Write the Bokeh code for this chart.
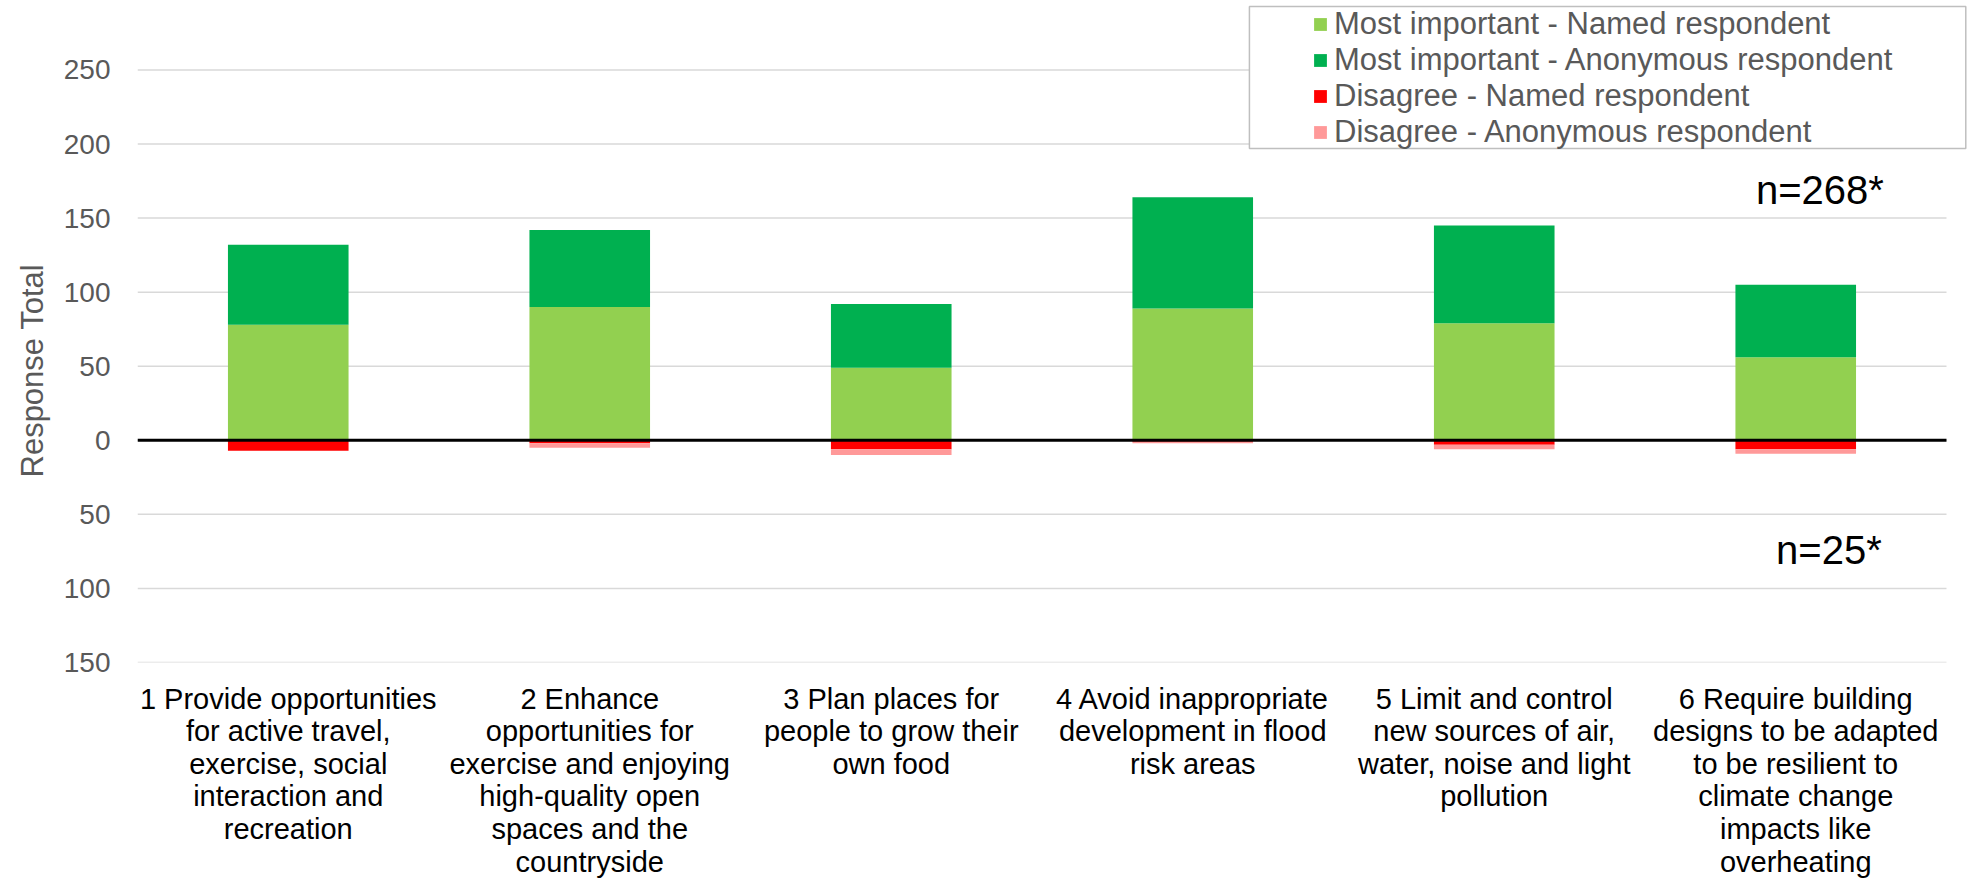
from bokeh.plotting import figure
from bokeh.models import (ColumnDataSource, Range1d, Legend, LegendItem, Label,
                          FixedTicker, BoxAnnotation, Title)
from bokeh.embed import file_html
from bokeh.resources import INLINE

# ---------------- data ----------------
categories = [
    "1 Provide opportunities\nfor active travel,\nexercise, social\ninteraction and\nrecreation",
    "2 Enhance\nopportunities for\nexercise and enjoying\nhigh-quality open\nspaces and the\ncountryside",
    "3 Plan places for\npeople to grow their\nown food",
    "4 Avoid inappropriate\ndevelopment in flood\nrisk areas",
    "5 Limit and control\nnew sources of air,\nwater, noise and light\npollution",
    "6 Require building\ndesigns to be adapted\nto be resilient to\nclimate change\nimpacts like\noverheating",
]
most_important_named = [78, 90, 49, 89, 79, 56]
most_important_anonymous = [54, 52, 43, 75, 66, 49]
disagree_named = [7, 2, 6, 1, 3, 6]
disagree_anonymous = [0, 3, 4, 1, 3, 3]

series_names = [
    "Most important - Named respondent",
    "Most important - Anonymous respondent",
    "Disagree - Named respondent",
    "Disagree - Anonymous respondent",
]
series_colors = ["#92D050", "#00B050", "#FF0000", "#FF9999"]

y_ticks = [-150, -100, -50, 0, 50, 100, 150, 200, 250]
y_tick_labels = ["150", "100", "50", "0", "50", "100", "150", "200", "250"]
y_title = "Response Total"
n_labels = ["n=268*", "n=25*"]

FONT = "Liberation Sans"

# ---------------- figure ----------------
n_cat = len(categories)
x_pos = [i + 0.5 for i in range(n_cat)]

src = ColumnDataSource(dict(
    x=x_pos,
    mi_named=most_important_named,
    mi_anon=most_important_anonymous,
    dis_named=[-v for v in disagree_named],
    dis_anon=[-v for v in disagree_anonymous],
))

p = figure(
    x_range=Range1d(0, n_cat + 0.0697),
    y_range=Range1d(-150, 294.2),
    width=1968, height=881,
    output_backend="svg", toolbar_location=None,
    min_border_left=137, min_border_right=1,
    min_border_top=4, min_border_bottom=219,
)
p.outline_line_color = None
p.background_fill_color = "white"
p.xgrid.visible = False
p.ygrid.visible = False

# horizontal gridlines over the category span
grid_src = ColumnDataSource(dict(x0=[0] * len(y_ticks), x1=[n_cat] * len(y_ticks),
                                 y=y_ticks))
p.segment(x0="x0", x1="x1", y0="y", y1="y", source=grid_src,
          line_color="#D9D9D9", line_width=1.5)

pos = p.vbar_stack(["mi_named", "mi_anon"], x="x", width=0.4, source=src,
                   fill_color=series_colors[:2], line_color=None)
neg = p.vbar_stack(["dis_named", "dis_anon"], x="x", width=0.4, source=src,
                   fill_color=series_colors[2:], line_color=None)

# zero line
p.segment(x0=[0], x1=[n_cat], y0=[0], y1=[0], line_color="black", line_width=3)

# y axis
p.yaxis.ticker = FixedTicker(ticks=y_ticks)
p.yaxis.major_label_overrides = dict(zip(y_ticks, y_tick_labels))
p.yaxis.axis_line_color = None
p.yaxis.major_tick_line_color = None
p.yaxis.minor_tick_line_color = None
p.yaxis.major_tick_out = 0
p.yaxis.major_tick_in = 0
p.yaxis.major_label_standoff = 27
p.yaxis.major_label_text_font = FONT
p.yaxis.major_label_text_font_size = "28px"
p.yaxis.major_label_text_color = "#595959"

# x axis
p.xaxis.ticker = FixedTicker(ticks=x_pos)
p.xaxis.major_label_overrides = dict(zip(x_pos, categories))
p.xaxis.axis_line_color = None
p.xaxis.major_tick_line_color = None
p.xaxis.minor_tick_line_color = None
p.xaxis.major_tick_out = 0
p.xaxis.major_tick_in = 0
p.xaxis.major_label_standoff = 20
p.xaxis.major_label_text_font = FONT
p.xaxis.major_label_text_font_size = "29px"
p.xaxis.major_label_text_color = "#000000"
p.xaxis.major_label_text_line_height = 1.02

# y title (side title, rotated)
p.add_layout(Title(text=y_title, align="left", offset=185, vertical_align="bottom",
                   text_font=FONT, text_font_size="31px", text_font_style="normal",
                   text_color="#595959", standoff=22), "left")

# n labels
p.add_layout(Label(x=5.58, y=169, text=n_labels[0], text_align="center",
                   text_baseline="middle", text_font=FONT, text_font_size="40px",
                   text_color="black"))
p.add_layout(Label(x=5.61, y=-74, text=n_labels[1], text_align="center",
                   text_baseline="middle", text_font=FONT, text_font_size="40px",
                   text_color="black"))

# legend frame
p.add_layout(BoxAnnotation(left=3.688, right=6.064, top=292.8, bottom=197.0,
                           fill_color="white", fill_alpha=1.0,
                           line_color="#BFBFBF", line_width=1.5, line_alpha=1.0,
                           level="annotation"))

# legend
renderers = list(pos) + list(neg)
legend = Legend(
    items=[LegendItem(label=n, renderers=[r]) for n, r in zip(series_names, renderers)],
    location=(1175, 512),
    label_text_font=FONT, label_text_font_size="31px", label_text_color="#595959",
    glyph_width=16, glyph_height=16, label_standoff=6,
    padding=2, spacing=0, margin=0,
    label_height=35,
    border_line_color=None,
    background_fill_alpha=0.0,
)
p.add_layout(legend)

open("out.html", "w").write(file_html(p, INLINE))
